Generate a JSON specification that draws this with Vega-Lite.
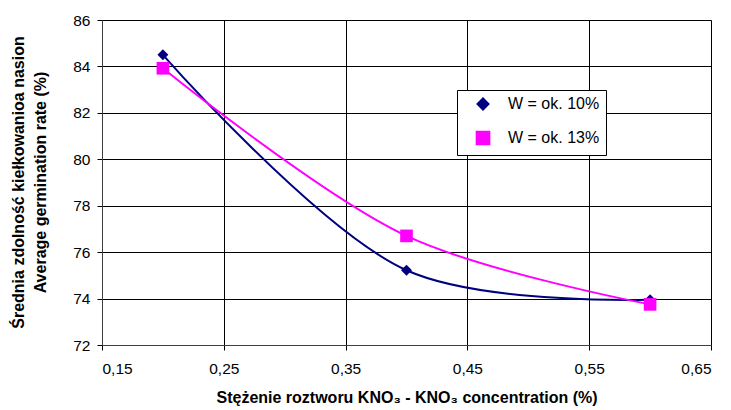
{
  "$schema": "https://vega.github.io/schema/vega-lite/v6.json",
  "width": 609,
  "height": 325,
  "autosize": {"type": "none"},
  "padding": {"left": 102, "top": 20, "right": 20, "bottom": 65},
  "background": "white",
  "config": {
    "font": "Liberation Sans",
    "view": {"stroke": "#808080", "strokeWidth": 1},
    "axis": {
      "labelFont": "Liberation Sans",
      "labelFontSize": 15.5,
      "labelColor": "#000",
      "titleFont": "Liberation Sans",
      "titleFontSize": 16,
      "titleFontWeight": "bold",
      "titleColor": "#000",
      "gridColor": "#000",
      "gridOpacity": 1,
      "gridWidth": 1,
      "tickColor": "#000",
      "tickSize": 5,
      "domainColor": "#404040"
    }
  },
  "data": {
    "values": [
      {"c": 0.2, "rate": 84.5, "series": "W = ok. 10%"},
      {"c": 0.4, "rate": 75.22, "series": "W = ok. 10%"},
      {"c": 0.6, "rate": 73.95, "series": "W = ok. 10%"},
      {"c": 0.2, "rate": 83.92, "series": "W = ok. 13%"},
      {"c": 0.4, "rate": 76.7, "series": "W = ok. 13%"},
      {"c": 0.6, "rate": 73.75, "series": "W = ok. 13%"}
    ]
  },
  "encoding": {
    "x": {
      "field": "c",
      "type": "quantitative",
      "scale": {"domain": [0.15, 0.65], "nice": false, "zero": false},
      "axis": {
        "values": [0.15, 0.25, 0.35, 0.45, 0.55, 0.65],
        "labelExpr": "replace(format(datum.value, '.2f'), '.', ',')",
        "labelPadding": 11,
        "title": "Stężenie roztworu KNO₃ - KNO₃ concentration (%)",
        "titlePadding": 13
      }
    },
    "y": {
      "field": "rate",
      "type": "quantitative",
      "scale": {"domain": [72, 86], "nice": false, "zero": false},
      "axis": {
        "values": [72, 74, 76, 78, 80, 82, 84, 86],
        "labelPadding": 7,
        "title": ["Średnia zdolność kiełkowanioa nasion", "Average germination rate (%)"],
        "titleLineHeight": 22,
        "titleX": -92,
        "titleY": 162,
        "titleAngle": -90,
        "titleBaseline": "top",
        "titleAlign": "center"
      }
    },
    "color": {
      "field": "series",
      "type": "nominal",
      "scale": {"domain": ["W = ok. 10%", "W = ok. 13%"], "range": ["#000080", "#FF00FF"]},
      "legend": {
        "title": null,
        "orient": "none",
        "legendX": 355,
        "legendY": 70,
        "fillColor": "white",
        "strokeColor": "#000",
        "padding": 6,
        "labelFont": "Liberation Sans",
        "labelFontSize": 16,
        "labelColor": "#000",
        "symbolStrokeWidth": 2,
        "symbolOffset": 12,
        "labelOffset": 17,
        "rowPadding": 13
      }
    }
  },
  "layer": [
    {
      "mark": {"type": "line", "interpolate": "catmull-rom", "strokeWidth": 2}
    },
    {
      "mark": {"type": "point", "filled": true, "opacity": 1},
      "encoding": {
        "shape": {
          "field": "series",
          "type": "nominal",
          "scale": {"domain": ["W = ok. 10%", "W = ok. 13%"], "range": ["diamond", "square"]},
          "legend": null
        },
        "size": {
          "field": "series",
          "type": "nominal",
          "scale": {"domain": ["W = ok. 10%", "W = ok. 13%"], "range": [120, 160]},
          "legend": null
        }
      }
    }
  ]
}
